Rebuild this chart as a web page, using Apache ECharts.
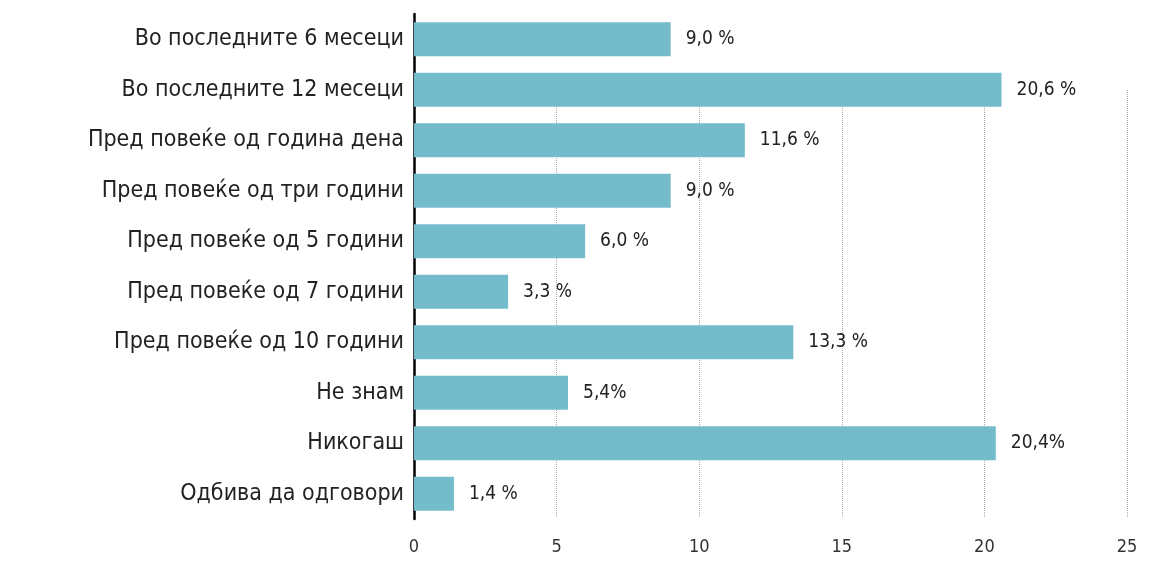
<!DOCTYPE html>
<html>
<head>
<meta charset="utf-8">
<script src="https://cdn.jsdelivr.net/npm/echarts@6/dist/echarts.min.js"></script>
<style>
  html, body { margin: 0; padding: 0; background: #fff; }
  #chart { width: 1157px; height: 565px; }
</style>
</head>
<body>
<div id="chart"></div>
<script>
// Categories, top to bottom
const categories = [
  'Во последните 6 месеци',
  'Во последните 12 месеци',
  'Пред повеќе од година дена',
  'Пред повеќе од три години',
  'Пред повеќе од 5 години',
  'Пред повеќе од 7 години',
  'Пред повеќе од 10 години',
  'Не знам',
  'Никогаш',
  'Одбива да одговори'
];
// Share of respondents, percent
const values = [9.0, 20.6, 11.6, 9.0, 6.0, 3.3, 13.3, 5.4, 20.4, 1.4];
// Value labels as printed next to each bar
const valueLabels = ['9,0 %', '20,6 %', '11,6 %', '9,0 %', '6,0 %', '3,3 %', '13,3 %', '5,4%', '20,4%', '1,4 %'];
// X axis ticks
const xTicks = [0, 5, 10, 15, 20, 25];

const FONT = '"DejaVu Sans Condensed", "Liberation Sans Narrow", "Roboto", sans-serif';
const xMin = xTicks[0], xMax = xTicks[xTicks.length - 1], xStep = xTicks[1] - xTicks[0];

const chart = echarts.init(document.getElementById('chart'), null, { renderer: 'canvas' });
chart.setOption({
  animation: false,
  backgroundColor: '#ffffff',
  grid: [
    // bars
    { left: 414, right: 30, top: 14, bottom: 46, containLabel: false },
    // dotted vertical guides, starting below the first two bars
    { left: 414, right: 30, top: 90, bottom: 48, containLabel: false }
  ],
  xAxis: [
    {
      gridIndex: 0, type: 'value', min: xMin, max: xMax, interval: xStep,
      axisLine: { show: false }, axisTick: { show: false }, splitLine: { show: false },
      axisLabel: { color: '#333', fontFamily: FONT, fontSize: 18, margin: 19 }
    },
    {
      gridIndex: 1, type: 'value', min: xMin, max: xMax, interval: xStep,
      axisLine: { show: false }, axisTick: { show: false }, axisLabel: { show: false },
      splitLine: { show: true, lineStyle: { color: '#a8a8a8', type: [1, 1], width: 1 } }
    }
  ],
  yAxis: [
    {
      gridIndex: 0, type: 'category', data: categories, inverse: true,
      axisLine: { show: true, lineStyle: { color: '#000', width: 2.5 } },
      axisTick: { show: false },
      axisLabel: { color: '#222', fontFamily: FONT, fontSize: 23, margin: 10 }
    },
    {
      gridIndex: 1, type: 'category', data: categories, inverse: true, show: false
    }
  ],
  series: [
    {
      type: 'bar', xAxisIndex: 0, yAxisIndex: 0,
      data: values, barWidth: 34,
      itemStyle: { color: '#74bccb' },
      label: {
        show: true, position: 'right', distance: 15,
        color: '#222', fontFamily: FONT, fontSize: 19,
        formatter: p => valueLabels[p.dataIndex]
      },
      z: 3
    }
  ]
});
</script>
</body>
</html>
